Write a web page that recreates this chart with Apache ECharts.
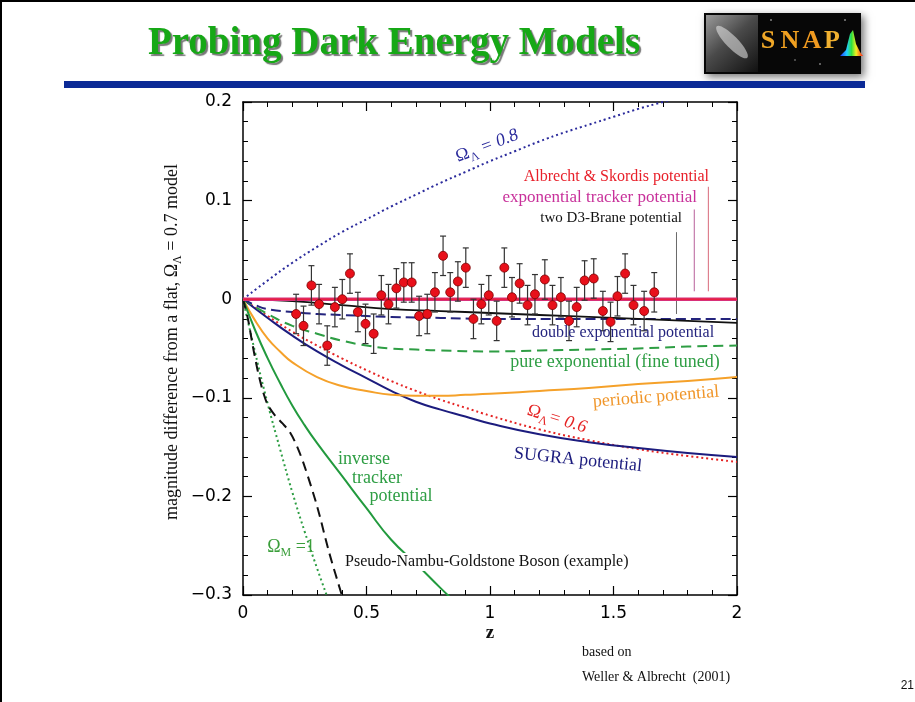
<!DOCTYPE html>
<html><head><meta charset="utf-8">
<script src="https://cdn.jsdelivr.net/npm/echarts@6/dist/echarts.min.js"></script>
<style>html,body{margin:0;padding:0;background:#fff}#c{width:915px;height:702px}</style>
</head><body><div id="c"></div>
<script>
// ---- supernova data points (z, magnitude difference, error) ----
const snZ = [0.215,0.245,0.277,0.308,0.341,0.372,0.402,0.433,0.465,0.496,0.529,0.560,0.589,0.621,0.651,0.683,0.713,0.746,0.777,0.810,0.839,0.870,0.902,0.933,0.965,0.995,1.027,1.058,1.089,1.120,1.152,1.182,1.222,1.253,1.287,1.320,1.351,1.383,1.420,1.457,1.488,1.516,1.547,1.581,1.624,1.665];
const snMag = [-0.015,-0.027,0.014,-0.005,-0.047,-0.008,0.000,0.026,-0.013,-0.025,-0.035,0.004,-0.005,0.011,0.017,0.017,-0.017,-0.015,0.007,0.044,0.007,0.018,0.032,-0.020,-0.005,0.004,-0.022,0.032,0.002,0.016,-0.006,0.005,0.020,-0.006,0.002,-0.022,-0.008,0.019,0.021,-0.012,-0.023,0.003,0.026,-0.006,-0.012,0.007];
const snErr = [0.02,0.02,0.02,0.02,0.02,0.02,0.02,0.02,0.02,0.02,0.02,0.02,0.02,0.02,0.02,0.02,0.02,0.02,0.02,0.02,0.02,0.02,0.02,0.02,0.02,0.02,0.02,0.02,0.02,0.02,0.02,0.02,0.02,0.02,0.02,0.02,0.02,0.02,0.02,0.02,0.02,0.02,0.02,0.02,0.02,0.02];

// ---- model curves ----
const omegaL08Z = [0,0.1,0.2,0.3,0.4,0.5,0.6,0.7,0.8,0.9,1.0,1.1,1.2,1.3,1.4,1.5,1.6,1.7,1.8];
const omegaL08 = [0,0.019,0.037,0.053,0.068,0.081,0.094,0.106,0.118,0.129,0.140,0.150,0.160,0.169,0.177,0.185,0.193,0.200,0.207];
const omegaL06Z = [0,0.1,0.2,0.3,0.4,0.5,0.6,0.7,0.8,0.9,1.0,1.2,1.4,1.6,1.8,2.0];
const omegaL06 = [0,-0.017,-0.033,-0.047,-0.060,-0.072,-0.083,-0.093,-0.102,-0.110,-0.118,-0.132,-0.143,-0.152,-0.159,-0.165];
const sugraZ = [0,0.1,0.2,0.3,0.4,0.5,0.6,0.7,0.8,0.9,1.0,1.2,1.4,1.6,1.8,2.0];
const sugra = [0,-0.019,-0.037,-0.053,-0.067,-0.080,-0.093,-0.104,-0.112,-0.119,-0.126,-0.137,-0.145,-0.151,-0.156,-0.160];
const periodicZ = [0,0.05,0.1,0.15,0.2,0.3,0.4,0.5,0.6,0.7,0.8,0.9,1.0,1.2,1.4,1.6,1.8,2.0];
const periodic = [0,-0.022,-0.040,-0.053,-0.064,-0.079,-0.088,-0.093,-0.097,-0.098,-0.098,-0.097,-0.096,-0.093,-0.090,-0.086,-0.083,-0.079];
const pureExpZ = [0,0.1,0.2,0.3,0.4,0.5,0.6,0.7,0.8,1.0,1.2,1.4,1.6,1.8,2.0];
const pureExp = [0,-0.015,-0.027,-0.035,-0.042,-0.047,-0.050,-0.051,-0.052,-0.053,-0.052,-0.051,-0.050,-0.048,-0.047];
const doubleExpZ = [0,0.05,0.1,0.2,0.3,0.4,0.6,0.8,1.0,1.5,2.0];
const doubleExp = [0,-0.006,-0.010,-0.013,-0.015,-0.016,-0.018,-0.019,-0.020,-0.020,-0.020];
const d3BraneZ = [0,0.2,0.4,0.6,0.8,1.0,1.2,1.4,1.6,1.8,2.0];
const d3Brane = [0,-0.002,-0.006,-0.010,-0.012,-0.014,-0.016,-0.018,-0.020,-0.022,-0.024];
const albrechtZ = [0,2];
const albrecht = [0,0];
const expTrackerZ = [0,2];
const expTracker = [0,0];
const invTrackerZ = [0,0.05,0.1,0.15,0.2,0.25,0.3,0.4,0.5,0.6,0.7,0.8,0.85];
const invTracker = [0,-0.032,-0.060,-0.085,-0.108,-0.128,-0.146,-0.179,-0.212,-0.244,-0.268,-0.293,-0.305];
const omegaM1Z = [0,0.05,0.1,0.15,0.2,0.25,0.3,0.35];
const omegaM1 = [0,-0.055,-0.106,-0.152,-0.196,-0.236,-0.273,-0.308];
const pngbZ = [0,0.02,0.04,0.06,0.08,0.1,0.13,0.16,0.19,0.22,0.25,0.3,0.35,0.4,0.41];
const pngb = [0,-0.020,-0.048,-0.073,-0.093,-0.107,-0.118,-0.126,-0.135,-0.150,-0.170,-0.210,-0.258,-0.300,-0.308];

// label pointer lines (z, top value, bottom value)
const pointerZ = [1.755, 1.827, 1.884];
const pointerTop = [0.068, 0.091, 0.114];
const pointerBottom = [-0.015, 0.008, 0.008];

const xTicks = [0, 0.5, 1, 1.5, 2];
const yTicks = [-0.3, -0.2, -0.1, 0, 0.1, 0.2];

const pairs = (zs, vs) => zs.map((z, i) => [z, vs[i]]);
const chart = echarts.init(document.getElementById('c'));

function curve(name, zs, vs, color, type, width, smooth) {
  return {
    name, type: 'line', data: pairs(zs, vs), showSymbol: false, symbol: 'none',
    smooth: smooth === undefined ? 0.5 : smooth,
    lineStyle: { color, width: width || 2, type: type || 'solid', cap: 'butt' },
    z: 2, silent: true, clip: true
  };
}

const serif = '"Liberation Serif", "Times New Roman", serif';
function T(x, y, text, size, color, extra) {
  return Object.assign({
    type: 'text', x, y, z: 100,
    style: Object.assign({ text, fill: color, font: size + 'px ' + serif, textAlign: 'left', textVerticalAlign: 'middle', verticalAlign: 'middle' }, extra && extra.style),
  }, extra && extra.el);
}
function omegaRich(sub, rest, size, color, italicRest) {
  return {
    rich: {
      a: { fontSize: size, fontFamily: serif, fill: color, color, lineHeight: size + 4 },
      s: { fontSize: Math.round(size * 0.65), fontFamily: serif, fill: color, color, verticalAlign: 'bottom', lineHeight: size + 6 },
      b: { fontSize: size, fontFamily: serif, fill: color, color, fontStyle: italicRest ? 'italic' : 'normal', lineHeight: size + 4 }
    },
    text: '{a|Ω}{s|' + sub + '}{b|' + rest + '}'
  };
}

function axisCommon() {
  return {
    axisLine: { show: true, onZero: false, lineStyle: { color: '#000', width: 1.5 } },
    axisTick: { show: true, inside: true, length: 9, lineStyle: { color: '#000', width: 1.2 } },
    minorTick: { show: true, splitNumber: 5, length: 5, lineStyle: { color: '#000', width: 1 } },
    splitLine: { show: false }, minorSplitLine: { show: false }
  };
}

const option = {
  animation: false,
  backgroundColor: '#fff',
  grid: { left: 243, right: 178, top: 102, bottom: 107 },
  xAxis: [
    Object.assign({ type: 'value', min: xTicks[0], max: xTicks[xTicks.length - 1], interval: 0.5, position: 'bottom',
      axisLabel: { show: true, margin: 10, color: '#000', fontSize: 17, fontFamily: '"DejaVu Sans", sans-serif',
        formatter: v => String(v) } }, axisCommon()),
    Object.assign({ type: 'value', min: xTicks[0], max: xTicks[xTicks.length - 1], interval: 0.5, position: 'top',
      axisLabel: { show: false } }, axisCommon())
  ],
  yAxis: [
    Object.assign({ type: 'value', min: yTicks[0], max: yTicks[yTicks.length - 1], interval: 0.1, position: 'left',
      axisLabel: { show: true, margin: 11, color: '#000', fontSize: 17, fontFamily: '"DejaVu Sans", sans-serif',
        formatter: v => { const r = Math.round(v * 10) / 10; return r < 0 ? '\u2212' + String(-r) : String(r); } } }, axisCommon()),
    Object.assign({ type: 'value', min: yTicks[0], max: yTicks[yTicks.length - 1], interval: 0.1, position: 'right',
      axisLabel: { show: false } }, axisCommon())
  ],
  series: [
    curve('ΩΛ=0.8', omegaL08Z, omegaL08, '#2b2b9c', [2, 3], 2),
    curve('ΩΛ=0.6', omegaL06Z, omegaL06, '#e52424', [2, 3], 2),
    curve('ΩM=1', omegaM1Z, omegaM1, '#2e9e44', [2, 3], 2),
    curve('SUGRA', sugraZ, sugra, '#1c1c7e', 'solid', 2),
    curve('periodic', periodicZ, periodic, '#f5a12a', 'solid', 2),
    curve('pure exponential', pureExpZ, pureExp, '#2e9e44', [10, 6], 2),
    curve('double exponential', doubleExpZ, doubleExp, '#24247e', [10, 5], 2),
    curve('two D3-Brane', d3BraneZ, d3Brane, '#111', 'solid', 1.8),
    curve('inverse tracker', invTrackerZ, invTracker, '#229a3e', 'solid', 2),
    curve('PNGB', pngbZ, pngb, '#111', [10, 6], 2, 0.3),
    curve('exponential tracker', expTrackerZ, expTracker, '#d8307a', 'solid', 3.5, false),
    curve('Albrecht & Skordis', albrechtZ, albrecht, '#e82040', 'solid', 1.5, false),
    {
      type: 'custom', name: 'pointers', silent: true, z: 2,
      data: pointerZ.map((z, i) => [z, pointerTop[i], pointerBottom[i], i]),
      encode: { x: 0, y: [1, 2] },
      renderItem: (params, api) => {
        const a = api.coord([api.value(0), api.value(1)]);
        const b = api.coord([api.value(0), api.value(2)]);
        const cols = ['#6a6a6a', '#b8609a', '#d86a7a'];
        return { type: 'line', shape: { x1: a[0], y1: a[1], x2: b[0], y2: b[1] },
          style: { stroke: cols[api.value(3)], lineWidth: 1 } };
      }
    },
    {
      type: 'custom', name: 'errors', silent: true, z: 3,
      data: snZ.map((z, i) => [z, snMag[i], snErr[i]]),
      encode: { x: 0, y: 1 },
      renderItem: (params, api) => {
        const z = api.value(0), m = api.value(1), e = api.value(2);
        const t = api.coord([z, m + e]), b = api.coord([z, m - e]);
        const hw = 3, st = { stroke: '#333', lineWidth: 1.2 };
        return { type: 'group', children: [
          { type: 'line', shape: { x1: t[0], y1: t[1], x2: b[0], y2: b[1] }, style: st },
          { type: 'line', shape: { x1: t[0] - hw, y1: t[1], x2: t[0] + hw, y2: t[1] }, style: st },
          { type: 'line', shape: { x1: b[0] - hw, y1: b[1], x2: b[0] + hw, y2: b[1] }, style: st }
        ] };
      }
    },
    {
      type: 'scatter', name: 'SNe', data: pairs(snZ, snMag), symbol: 'circle', symbolSize: 9, z: 4, silent: true,
      itemStyle: { color: '#e8101a', borderColor: '#7a0000', borderWidth: 0.8, opacity: 1 }
    }
  ],
  graphic: [
    // slide frame
    { type: 'rect', shape: { x: 1, y: 1, width: 1000, height: 1000 }, style: { fill: 'none', stroke: '#000', lineWidth: 2 }, z: 0 },
    // title
    { type: 'text', x: 394, y: 44, z: 100, style: { text: 'Probing Dark Energy Models', fill: '#16a816',
      font: 'bold 39px ' + serif, textAlign: 'center', textVerticalAlign: 'middle', verticalAlign: 'middle',
      textShadowColor: 'rgba(60,60,60,0.7)', textShadowOffsetX: 2, textShadowOffsetY: 2, textShadowBlur: 1 } },
    // blue rule
    { type: 'rect', shape: { x: 64, y: 81, width: 801, height: 7 }, style: { fill: '#0b2a96' }, z: 10 },
    // logo
    { type: 'group', z: 50, children: [
      { type: 'rect', shape: { x: 704, y: 13, width: 157, height: 61 }, style: { fill: '#070707', shadowBlur: 8, shadowColor: 'rgba(0,0,0,0.55)', shadowOffsetX: 3, shadowOffsetY: 3 } },
      { type: 'rect', shape: { x: 706, y: 15, width: 52, height: 57 }, style: { fill: new echarts.graphic.LinearGradient(0, 0, 1, 1, [
        { offset: 0, color: '#9a9a9a' }, { offset: 0.45, color: '#4a4a4a' }, { offset: 1, color: '#111' }]) } },
      { type: 'ellipse', shape: { cx: 732, cy: 42, rx: 22, ry: 6 }, rotation: -0.8, originX: 732, originY: 42, style: { fill: 'rgba(235,235,235,0.55)' } },
      { type: 'text', x: 768, y: 41, style: { text: 'S', font: 'bold 26px ' + serif, fill: '#f0a828', textAlign: 'center', textVerticalAlign: 'middle', verticalAlign: 'middle' } },
      { type: 'text', x: 790, y: 41, style: { text: 'N', font: 'bold 26px ' + serif, fill: '#f0a020', textAlign: 'center', textVerticalAlign: 'middle', verticalAlign: 'middle' } },
      { type: 'text', x: 812, y: 41, style: { text: 'A', font: 'bold 26px ' + serif, fill: '#f09a20', textAlign: 'center', textVerticalAlign: 'middle', verticalAlign: 'middle' } },
      { type: 'text', x: 832, y: 41, style: { text: 'P', font: 'bold 26px ' + serif, fill: '#f0b030', textAlign: 'center', textVerticalAlign: 'middle', verticalAlign: 'middle' } },
      { type: 'polygon', shape: { points: [[840, 56], [846, 50], [850, 34], [853, 30], [856, 44], [860, 52], [863, 56]] },
        style: { fill: new echarts.graphic.LinearGradient(0, 0, 1, 0, [{ offset: 0, color: '#2030ff' }, { offset: 0.3, color: '#20d0ff' }, { offset: 0.5, color: '#30e040' }, { offset: 0.7, color: '#f0f020' }, { offset: 1, color: '#ff2020' }]) } },
      { type: 'circle', shape: { cx: 771, cy: 20, r: 0.8 }, style: { fill: '#ddd' } },
      { type: 'circle', shape: { cx: 820, cy: 64, r: 0.8 }, style: { fill: '#ccc' } },
      { type: 'circle', shape: { cx: 845, cy: 20, r: 0.8 }, style: { fill: '#ddd' } },
      { type: 'circle', shape: { cx: 795, cy: 60, r: 0.7 }, style: { fill: '#bbb' } }
    ] },
    // axis titles
    { type: 'text', x: 172, y: 342, rotation: Math.PI / 2, z: 100, style: Object.assign({ textAlign: 'center', textVerticalAlign: 'middle', verticalAlign: 'middle' },
      { rich: { a: { fontSize: 18, fontFamily: serif, fill: '#111', color: '#111', lineHeight: 22 }, s: { fontSize: 12, fontFamily: serif, fill: '#111', color: '#111', verticalAlign: 'bottom', lineHeight: 24 } },
        text: '{a|magnitude difference from a flat, Ω}{s|Λ}{a| = 0.7 model}' }) },
    { type: 'text', x: 490, y: 633, z: 100, style: { text: 'z', font: 'bold 19px ' + serif, fill: '#111', textAlign: 'center', textVerticalAlign: 'middle', verticalAlign: 'middle' } },
    // curve labels
    { type: 'text', x: 487, y: 146, rotation: 0.36, z: 100, style: Object.assign({ textAlign: 'center', textVerticalAlign: 'middle', verticalAlign: 'middle' }, omegaRich('Λ', ' = 0.8', 18, '#2b2b9c', true)) },
    { type: 'text', x: 557, y: 419, rotation: -0.3, z: 100, style: Object.assign({ textAlign: 'center', textVerticalAlign: 'middle', verticalAlign: 'middle' }, omegaRich('Λ', '= 0.6', 18, '#e52424', true)) },
    { type: 'text', x: 291, y: 547, z: 100, style: Object.assign({ textAlign: 'center', textVerticalAlign: 'middle', verticalAlign: 'middle' }, omegaRich('M', ' =1', 18, '#3a9e3a', false)) },
    T(709, 177, 'Albrecht & Skordis potential', 16, '#e8202a', { style: { textAlign: 'right' } }),
    T(697, 198, 'exponential tracker potential', 17, '#c8309a', { style: { textAlign: 'right' } }),
    T(682, 218, 'two D3-Brane potential', 15, '#111', { style: { textAlign: 'right' } }),
    T(623, 333, 'double exponential potential', 16, '#24247e', { style: { textAlign: 'center' } }),
    T(615, 362, 'pure exponential (fine tuned)', 18, '#2e9e44', { style: { textAlign: 'center' } }),
    T(656, 397, 'periodic potential', 18, '#f0962a', { style: { textAlign: 'center' }, el: { rotation: 0.08 } }),
    T(578, 460, 'SUGRA potential', 18, '#1c1c7e', { style: { textAlign: 'center' }, el: { rotation: -0.1 } }),
    T(364, 459, 'inverse', 18, '#2e9e44', { style: { textAlign: 'center' } }),
    T(377, 478, 'tracker', 18, '#2e9e44', { style: { textAlign: 'center' } }),
    T(401, 496, 'potential', 18, '#2e9e44', { style: { textAlign: 'center' } }),
    T(343, 562, 'Pseudo-Nambu-Goldstone Boson (example)', 16, '#111', { style: { backgroundColor: '#fff', padding: [1, 2, 1, 2] } }),
    // footnotes
    T(582, 652, 'based on', 14, '#111'),
    T(582, 677, 'Weller & Albrecht  (2001)', 14, '#111'),
    { type: 'text', x: 914, y: 686, z: 100, style: { text: '21', font: '12px "Liberation Sans", Arial, sans-serif', fill: '#111', textAlign: 'right', textVerticalAlign: 'middle', verticalAlign: 'middle' } }
  ]
};
chart.setOption(option);
</script>
</body></html>
